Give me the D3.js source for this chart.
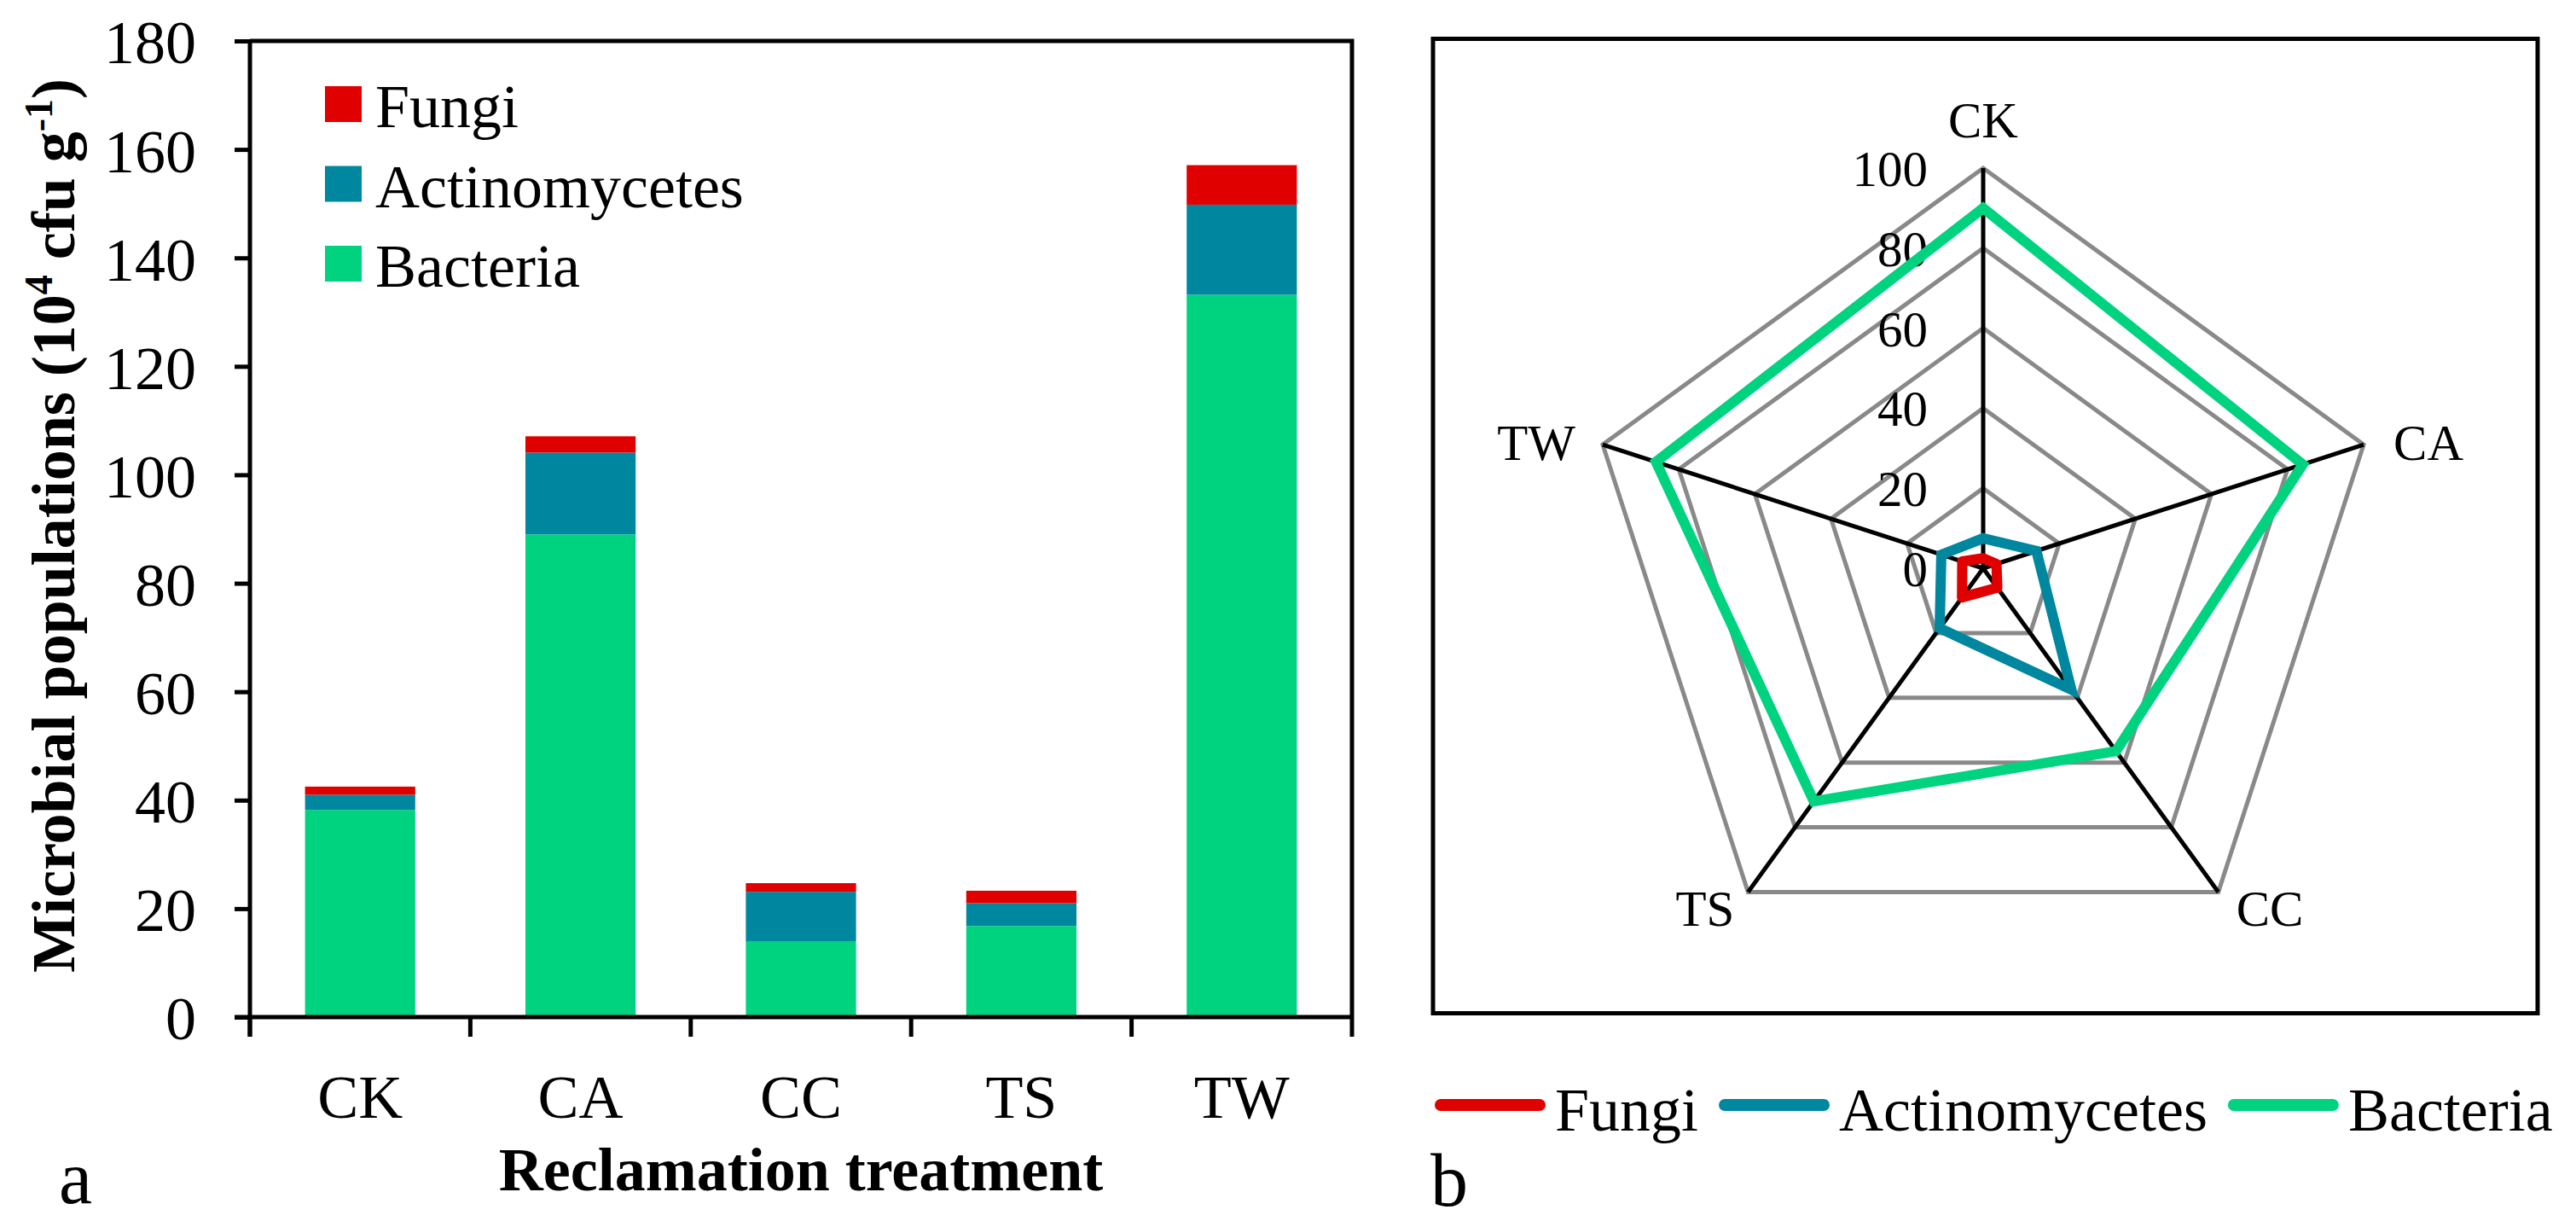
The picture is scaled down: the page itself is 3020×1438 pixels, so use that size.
<!DOCTYPE html>
<html>
<head>
<meta charset="utf-8">
<script src="https://cdn.jsdelivr.net/npm/d3@7/dist/d3.min.js"></script>
<style>
  html, body { margin: 0; padding: 0; background: #fff; }
  svg { display: block; }
  text { font-family: "Liberation Serif", "Times New Roman", serif; fill: #000; }
</style>
</head>
<body>
<svg id="chart" width="3020" height="1438"></svg>
<script>
// ---------------- data ----------------
const categories = ["CK", "CA", "CC", "TS", "TW"];
const bacteria = [38.2, 89.0, 13.9, 16.8, 133.2];
const actinomycetes = [2.8, 15.1, 9.2, 4.2, 16.6];
const fungi = [1.5, 3.0, 1.6, 2.3, 7.3];
const yTicks = [0, 20, 40, 60, 80, 100, 120, 140, 160, 180];

// radar (b) values, percent of total population
const radarBacteria = [90, 84, 56.5, 72, 86];
const radarActinomycetes = [7.5, 14, 37.5, 18.5, 11];
const radarFungi = [2.5, 3.5, 6, 9, 5.5];
const radarTicks = [0, 20, 40, 60, 80, 100];

const seriesNames = ["Fungi", "Actinomycetes", "Bacteria"];
const seriesColors = { Fungi: "#E10000", Actinomycetes: "#0087A0", Bacteria: "#00D37F" };

// ---------------- setup ----------------
const svg = d3.select("#chart");
svg.append("rect").attr("width", 3020).attr("height", 1438).attr("fill", "#fff");

// ================= panel a =================
const L = { left: 293, right: 1585, top: 48, bottom: 1192 };
const x = d3.scaleBand().domain(categories).range([L.left, L.right]).paddingInner(0.5).paddingOuter(0.25);
const y = d3.scaleLinear().domain([0, 180]).range([L.bottom, L.top]);

const rows = categories.map((c, i) => ({ cat: c, Bacteria: bacteria[i], Actinomycetes: actinomycetes[i], Fungi: fungi[i] }));
const stack = d3.stack().keys(["Bacteria", "Actinomycetes", "Fungi"]);
const stacked = stack(rows);

const gBars = svg.append("g");
stacked.forEach(layer => {
  gBars.selectAll(null).data(layer).enter().append("rect")
    .attr("x", d => x(d.data.cat))
    .attr("width", x.bandwidth())
    .attr("y", d => y(d[1]))
    .attr("height", d => y(d[0]) - y(d[1]))
    .attr("fill", seriesColors[layer.key]);
});

// frame top & right
svg.append("path")
  .attr("d", `M${L.left},${L.top}H${L.right}V${L.bottom}`)
  .attr("fill", "none").attr("stroke", "#000").attr("stroke-width", 5);

// y axis
const yAxis = d3.axisLeft(y).tickValues(yTicks).tickSize(18).tickPadding(45).tickFormat(d3.format("d"));
const gy = svg.append("g").attr("transform", `translate(${L.left},0)`).call(yAxis);
gy.select(".domain").attr("stroke", "#000").attr("stroke-width", 5)
  .attr("d", `M0,${L.top}V${L.bottom + 23}`);
gy.selectAll(".tick line").attr("stroke", "#000").attr("stroke-width", 5);
gy.selectAll(".tick text").attr("font-size", 72).attr("font-family", "Liberation Serif").attr("dy", "0.36em");

// x axis
const gx = svg.append("g");
gx.append("line").attr("x1", L.left - 18).attr("x2", L.right).attr("y1", L.bottom).attr("y2", L.bottom)
  .attr("stroke", "#000").attr("stroke-width", 5);
const boundaries = categories.map(c => x(c) - x.step() * x.paddingInner() / 2).concat([L.right]);
gx.selectAll("line.tk").data(boundaries).enter().append("line").attr("class", "tk")
  .attr("x1", d => d).attr("x2", d => d).attr("y1", L.bottom).attr("y2", L.bottom + 23)
  .attr("stroke", "#000").attr("stroke-width", 5);
gx.selectAll("text").data(categories).enter().append("text")
  .attr("x", d => x(d) + x.bandwidth() / 2).attr("y", 1310)
  .attr("text-anchor", "middle").attr("font-size", 72).text(d => d);

// axis titles
svg.append("text").attr("x", L.left + (L.right - L.left) / 2).attr("y", 1395)
  .attr("text-anchor", "middle").attr("font-size", 72).attr("font-weight", "bold")
  .text("Reclamation treatment");

const yt = svg.append("text").attr("transform", `translate(87,${(L.top + L.bottom) / 2 - 4}) rotate(-90)`)
  .attr("text-anchor", "middle").attr("font-size", 72).attr("font-weight", "bold");
yt.append("tspan").text("Microbial populations (10");
yt.append("tspan").attr("font-size", 46).attr("dy", -26).text("4");
yt.append("tspan").attr("dy", 26).text(" cfu g");
yt.append("tspan").attr("font-size", 46).attr("dy", -26).text("-1");
yt.append("tspan").attr("dy", 26).text(")");

// legend a
const legA = svg.append("g");
seriesNames.forEach((name, i) => {
  const top = 101 + i * 93.5;
  legA.append("rect").attr("x", 381).attr("y", top).attr("width", 43).attr("height", 42)
    .attr("fill", seriesColors[name]);
  legA.append("text").attr("x", 440).attr("y", top + 48).attr("font-size", 72).text(name);
});

svg.append("text").attr("x", 69).attr("y", 1410).attr("font-size", 88).text("a");

// ================= panel b (radar) =================
const R = { left: 1680, right: 2975, top: 45.5, bottom: 1187.5, cx: 2325, cy: 666, radius: 469 };
svg.append("rect").attr("x", R.left).attr("y", R.top).attr("width", R.right - R.left).attr("height", R.bottom - R.top)
  .attr("fill", "none").attr("stroke", "#000").attr("stroke-width", 5);

const r = d3.scaleLinear().domain([0, 100]).range([0, R.radius]);
const angle = d3.scalePoint().domain(d3.range(categories.length + 1)).range([0, 2 * Math.PI]);
const ang = i => angle(i);
const pt = (i, v) => [R.cx + r(v) * Math.sin(ang(i)), R.cy - r(v) * Math.cos(ang(i))];

const gR = svg.append("g");
// grid polygons
const radial = d3.lineRadial().angle((d, i) => ang(i)).radius(d => r(d)).curve(d3.curveLinearClosed);
radarTicks.filter(t => t > 0).forEach(t => {
  gR.append("path").attr("transform", `translate(${R.cx},${R.cy})`)
    .attr("d", radial(categories.map(() => t)))
    .attr("fill", "none").attr("stroke", "#898989").attr("stroke-width", 5);
});
// spokes
categories.forEach((c, i) => {
  const p = pt(i, 100);
  gR.append("line").attr("x1", R.cx).attr("y1", R.cy).attr("x2", p[0]).attr("y2", p[1])
    .attr("stroke", "#000").attr("stroke-width", 5);
});
// tick labels
gR.selectAll("text.rt").data(radarTicks).enter().append("text").attr("class", "rt")
  .attr("x", R.cx - 65).attr("y", d => R.cy - r(d) + 21)
  .attr("text-anchor", "end").attr("font-size", 59).text(d => d);

// category labels
const labelCfg = {
  CK: { dx: 0, dy: -36, anchor: "middle" },
  CA: { dx: 35, dy: 18, anchor: "start" },
  CC: { dx: 21, dy: 40, anchor: "start" },
  TS: { dx: -16, dy: 40, anchor: "end" },
  TW: { dx: -32, dy: 18, anchor: "end" }
};
categories.forEach((c, i) => {
  const p = pt(i, 100);
  const cfg = labelCfg[c];
  gR.append("text").attr("x", p[0] + cfg.dx).attr("y", p[1] + cfg.dy)
    .attr("text-anchor", cfg.anchor).attr("font-size", 59).text(c);
});

// series
const radarSeries = [
  { name: "Fungi", values: radarFungi, join: "round" },
  { name: "Actinomycetes", values: radarActinomycetes, join: "miter" },
  { name: "Bacteria", values: radarBacteria, join: "miter" }
];
radarSeries.forEach(s => {
  gR.append("path").attr("transform", `translate(${R.cx},${R.cy})`)
    .attr("d", radial(s.values))
    .attr("fill", "none").attr("stroke", seriesColors[s.name]).attr("stroke-width", 12)
    .attr("stroke-linejoin", s.join);
});

// legend b
const legB = svg.append("g");
let lx = 1682;
const ly = 1295;
seriesNames.forEach(name => {
  legB.append("line").attr("x1", lx + 7).attr("x2", lx + 123).attr("y1", ly).attr("y2", ly)
    .attr("stroke", seriesColors[name]).attr("stroke-width", 14).attr("stroke-linecap", "round");
  const t = legB.append("text").attr("x", lx + 141).attr("y", 1325).attr("font-size", 72).text(name);
  lx = lx + 141 + t.node().getComputedTextLength() + 24;
});

svg.append("text").attr("x", 1677).attr("y", 1413).attr("font-size", 88).text("b");
</script>
</body>
</html>
